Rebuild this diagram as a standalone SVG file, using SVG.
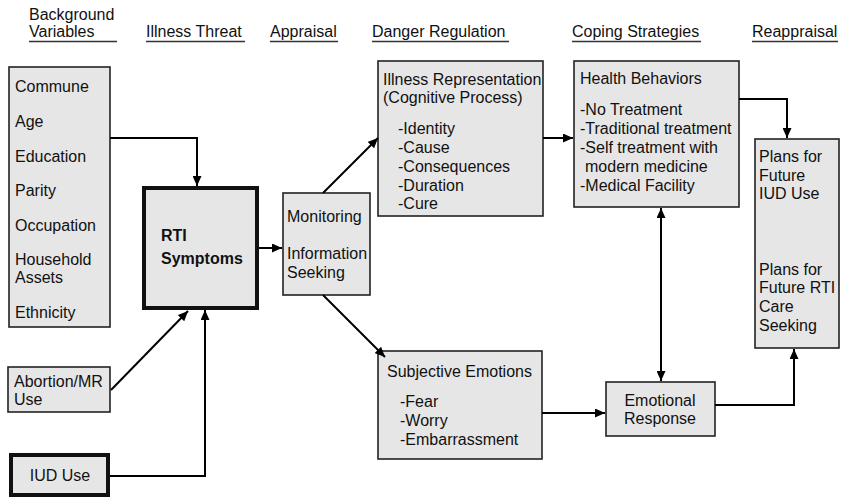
<svg xmlns="http://www.w3.org/2000/svg" width="841" height="498" viewBox="0 0 841 498">
<style>
text{font-family:"Liberation Sans",Arial,sans-serif;font-size:16px;fill:#111}
.box{fill:#e6e6e6;stroke:#222;stroke-width:1.6}
.thick{fill:#e6e6e6;stroke:#111;stroke-width:4}
.ul{stroke:#333;stroke-width:1.5}
.c{fill:none;stroke:#000;stroke-width:2}
.b{font-weight:bold}
</style>
<defs>
<marker id="ah" markerUnits="userSpaceOnUse" markerWidth="10" markerHeight="9" refX="10" refY="4.5" orient="auto-start-reverse">
<path d="M0,0 L10,4.5 L0,9 z" fill="#000"/>
</marker>
</defs>
<g id="headers">
<text x="29" y="20">Background</text>
<text x="29" y="37">Variables</text>
<line class="ul" x1="29" y1="41.5" x2="117" y2="41.5"/>
<text x="146" y="37">Illness Threat</text>
<line class="ul" x1="146" y1="41.5" x2="245" y2="41.5"/>
<text x="270" y="37">Appraisal</text>
<line class="ul" x1="270" y1="41.5" x2="338" y2="41.5"/>
<text x="372" y="37">Danger Regulation</text>
<line class="ul" x1="372" y1="41.5" x2="509" y2="41.5"/>
<text x="572" y="37">Coping Strategies</text>
<line class="ul" x1="572" y1="41.5" x2="701" y2="41.5"/>
<text x="752" y="37">Reappraisal</text>
<line class="ul" x1="752" y1="41.5" x2="838" y2="41.5"/>
</g>
<g id="background">
<rect class="box" x="9" y="67" width="101" height="260"/>
<text x="15" y="92">Commune</text>
<text x="15" y="127">Age</text>
<text x="15" y="162">Education</text>
<text x="15" y="196">Parity</text>
<text x="15" y="231">Occupation</text>
<text x="15" y="265">Household</text>
<text x="15" y="283">Assets</text>
<text x="15" y="318">Ethnicity</text>
</g>
<g id="abortion">
<rect class="box" x="8" y="367" width="102" height="45"/>
<text x="14" y="387">Abortion/MR</text>
<text x="14" y="405">Use</text>
</g>
<g id="iud">
<rect class="thick" x="11" y="455" width="97" height="40"/>
<text x="60" y="481" text-anchor="middle">IUD Use</text>
</g>
<g id="rti">
<rect class="thick" x="144" y="188" width="113" height="120"/>
<text class="b" x="161" y="241">RTI</text>
<text class="b" x="161" y="264">Symptoms</text>
</g>
<g id="monitoring">
<rect class="box" x="283" y="193" width="87" height="102"/>
<text x="287" y="222">Monitoring</text>
<text x="287" y="259">Information</text>
<text x="287" y="278">Seeking</text>
</g>
<g id="illness-rep">
<rect class="box" x="378" y="61" width="165" height="155"/>
<text x="383" y="85">Illness Representation</text>
<text x="383" y="103">(Cognitive Process)</text>
<text x="398" y="134">-Identity</text>
<text x="398" y="153">-Cause</text>
<text x="398" y="172">-Consequences</text>
<text x="398" y="191">-Duration</text>
<text x="398" y="209">-Cure</text>
</g>
<g id="subjective">
<rect class="box" x="378" y="351" width="164" height="108"/>
<text x="387" y="377">Subjective Emotions</text>
<text x="400" y="407">-Fear</text>
<text x="400" y="426">-Worry</text>
<text x="400" y="445">-Embarrassment</text>
</g>
<g id="health">
<rect class="box" x="574" y="61" width="165" height="146"/>
<text x="580" y="84">Health Behaviors</text>
<text x="580" y="115">-No Treatment</text>
<text x="580" y="134">-Traditional treatment</text>
<text x="580" y="153">-Self treatment with</text>
<text x="585" y="172">modern medicine</text>
<text x="580" y="191">-Medical Facility</text>
</g>
<g id="emotional">
<rect class="box" x="606" y="382" width="109" height="54"/>
<text x="660" y="406" text-anchor="middle">Emotional</text>
<text x="660" y="424" text-anchor="middle">Response</text>
</g>
<g id="plans">
<rect class="box" x="755" y="139" width="84" height="209"/>
<text x="759" y="162">Plans for</text>
<text x="759" y="181">Future</text>
<text x="759" y="199">IUD Use</text>
<text x="759" y="275">Plans for</text>
<text x="759" y="293">Future RTI</text>
<text x="759" y="312">Care</text>
<text x="759" y="331">Seeking</text>
</g>
<g id="connectors">
<path class="c" d="M110,138 H197 V186" marker-end="url(#ah)"/>
<path class="c" d="M111,390 L188,311" marker-end="url(#ah)"/>
<path class="c" d="M110,476 H205 V310" marker-end="url(#ah)"/>
<path class="c" d="M259,248 H282" marker-end="url(#ah)"/>
<path class="c" d="M323,193 L378,138" marker-end="url(#ah)"/>
<path class="c" d="M323,295 L385,357" marker-end="url(#ah)"/>
<path class="c" d="M543,138 H573" marker-end="url(#ah)"/>
<path class="c" d="M542,413 H605" marker-end="url(#ah)"/>
<path class="c" d="M661,208 V381" marker-start="url(#ah)" marker-end="url(#ah)"/>
<path class="c" d="M739,99 H787 V138" marker-end="url(#ah)"/>
<path class="c" d="M715,405 H794 V349" marker-end="url(#ah)"/>
</g>
</svg>
